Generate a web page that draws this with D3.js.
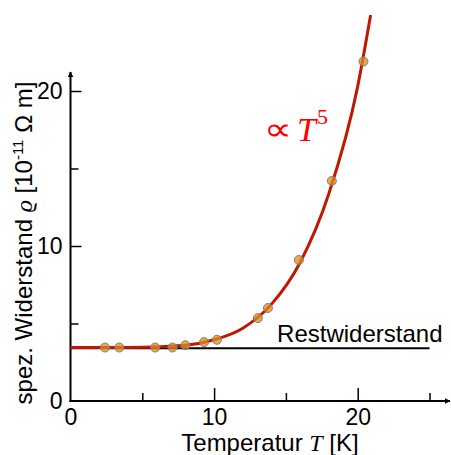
<!DOCTYPE html>
<html>
<head>
<meta charset="utf-8">
<script src="https://cdn.jsdelivr.net/npm/d3@7"></script>
<style>
  body { margin: 0; background: #fff; }
</style>
</head>
<body>
<script>
// measured points: temperature [K] and resistivity [1e-11 Ohm m]
const tempPoints = [2.4, 3.4, 5.9, 7.1, 8.0, 9.3, 10.2, 13.05, 13.75, 15.9, 18.2, 20.4];
const rhoPoints = [3.45, 3.45, 3.45, 3.45, 3.6, 3.8, 3.95, 5.35, 6.0, 9.1, 14.2, 21.9];

// fitted curve (residual + T^5)
const curveT = [0, 4, 8, 10, 12, 14, 16, 18, 20, 20.9];
const curveRho = [3.45, 3.45, 3.6, 3.95, 4.7, 6.25, 8.95, 13.4, 20.3, 24.9];

const residual = 3.4;
const xMajor = [0, 10, 20];
const xMinor = [5, 15, 25];
const yMajor = [0, 10, 20];
const yMinor = [5, 15];

const width = 451, height = 455;
const sans = '"Liberation Sans", Arial, sans-serif';
const serif = '"Liberation Serif", "DejaVu Serif", serif';

const svg = d3.select('body')
	.append('svg')
	.attr('width', width)
	.attr('height', height)
	.style('font-family', sans);

const x = d3.scaleLinear().domain([0, 25]).range([70.5, 429.5]);
const y = d3.scaleLinear().domain([0, 20]).range([401, 91]);

//arrow marker for the axes
svg.append('defs').append('marker')
	.attr('id', 'arrow')
	.attr('viewBox', '0 0 10 10')
	.attr('refX', 9).attr('refY', 5)
	.attr('markerWidth', 6).attr('markerHeight', 6)
	.attr('markerUnits', 'userSpaceOnUse')
	.attr('orient', 'auto')
	.append('path')
	.attr('d', 'M0,0 L10,5 L0,10 Z')
	.attr('fill', '#000');

//restwiderstand line
svg.append('line')
	.attr('x1', x(0)).attr('x2', x(25))
	.attr('y1', y(residual)).attr('y2', y(residual))
	.attr('stroke', '#000').attr('stroke-width', 2);

svg.append('text')
	.attr('x', x(25) + 13).attr('y', y(residual) - 6)
	.attr('text-anchor', 'end')
	.attr('font-size', 24)
	.text('Restwiderstand');

//x axis
const xAxisG = svg.append('g').attr('transform', `translate(0,${y(0)})`);
xAxisG.call(d3.axisBottom(x).tickValues(xMajor).tickSize(-13).tickPadding(8).tickFormat(d3.format('d')));
xAxisG.append('g').call(d3.axisBottom(x).tickValues(xMinor).tickSize(-8).tickFormat(''));

//y axis
const yAxisG = svg.append('g').attr('transform', `translate(${x(0)},0)`);
yAxisG.call(d3.axisLeft(y).tickValues(yMajor).tickSize(-11).tickPadding(8).tickFormat(d3.format('d')));
yAxisG.append('g').call(d3.axisLeft(y).tickValues(yMinor).tickSize(-8).tickFormat(''));

svg.selectAll('.domain').remove();
svg.selectAll('.tick line').attr('stroke', '#000').attr('stroke-width', 1.5);
svg.selectAll('.tick text')
	.attr('font-size', 23)
	.attr('font-family', sans)
	.attr('fill', '#000');
//hide the 0 tick marks on the axes themselves
svg.selectAll('.tick').filter(d => d === 0).select('line').remove();

svg.append('line')
	.attr('x1', x(0) - 1).attr('x2', 450)
	.attr('y1', y(0)).attr('y2', y(0))
	.attr('stroke', '#000').attr('stroke-width', 2)
	.attr('marker-end', 'url(#arrow)');
svg.append('line')
	.attr('x1', x(0)).attr('x2', x(0))
	.attr('y1', y(0) + 1).attr('y2', 72)
	.attr('stroke', '#000').attr('stroke-width', 2)
	.attr('marker-end', 'url(#arrow)');

//fit curve
const line = d3.line()
	.x((d, i) => x(curveT[i]))
	.y((d) => y(d))
	.curve(d3.curveMonotoneX);

svg.append('path')
	.datum(curveRho)
	.attr('d', line)
	.attr('fill', 'none')
	.attr('stroke', '#c01800')
	.attr('stroke-width', 3);

//data points
svg.selectAll('circle')
	.data(tempPoints)
	.enter()
	.append('circle')
	.attr('cx', (d) => x(d))
	.attr('cy', (d, i) => y(rhoPoints[i]))
	.attr('r', 4.5)
	.attr('fill', '#e3881c')
	.attr('fill-opacity', 0.75)
	.attr('stroke', '#808080')
	.attr('stroke-width', 1);

//proportional label
svg.append('text')
	.attr('transform', 'translate(264,140) scale(1.65,1.35)')
	.attr('fill', '#ff0000')
	.style('font-family', '"DejaVu Sans", sans-serif')
	.attr('font-size', 24)
	.attr('font-weight', 200)
	.text('∝');
const prop = svg.append('text')
	.attr('x', 297).attr('y', 141)
	.attr('fill', '#ff0000')
	.style('font-family', serif)
	.attr('font-size', 34);
prop.append('tspan').style('font-style', 'italic').text('T');
prop.append('tspan').attr('dx', 1).attr('dy', -17).attr('font-size', 22).text('5');

//axis labels
const xl = svg.append('text')
	.attr('x', 270).attr('y', 451)
	.attr('text-anchor', 'middle')
	.attr('font-size', 24);
xl.append('tspan').text('Temperatur ');
xl.append('tspan').style('font-family', serif).style('font-style', 'italic').text('T');
xl.append('tspan').text(' [K]');

const yl = svg.append('text')
	.attr('transform', 'translate(32,243) rotate(-90)')
	.attr('text-anchor', 'middle')
	.attr('font-size', 24);
yl.append('tspan').text('spez. Widerstand ');
yl.append('tspan').style('font-family', serif).style('font-style', 'italic').text('ϱ');
yl.append('tspan').text(' [10');
yl.append('tspan').attr('dy', -9).attr('font-size', 15).text('-11');
yl.append('tspan').attr('dy', 9).text(' Ω m]');
</script>
</body>
</html>
